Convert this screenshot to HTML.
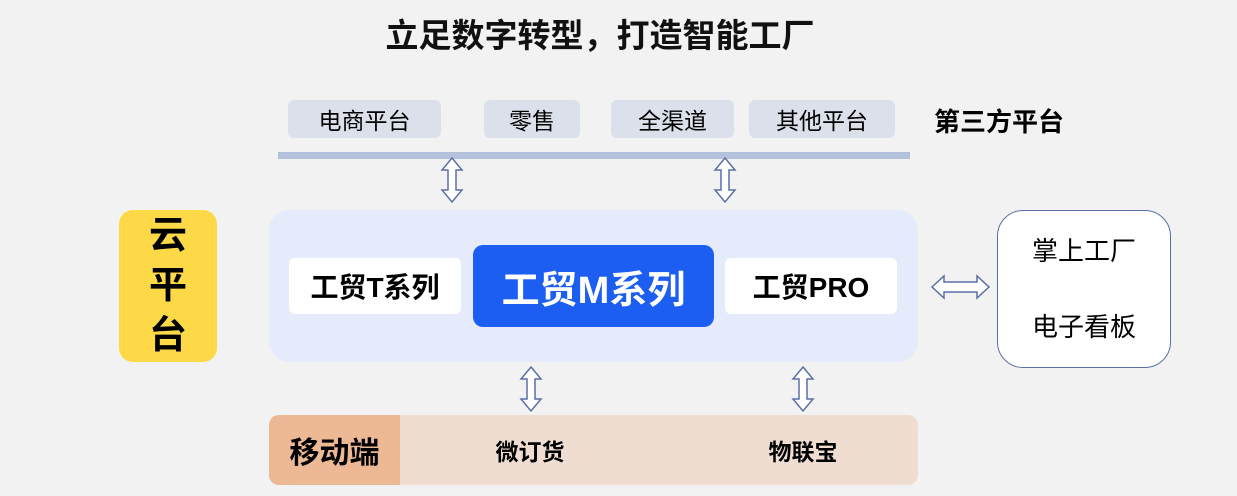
<!DOCTYPE html>
<html><head><meta charset="utf-8"><style>
body{margin:0;width:1237px;height:496px;background:#f2f2f2;position:relative;overflow:hidden;font-family:"Liberation Sans","Noto Sans CJK SC",sans-serif}
.a{position:absolute;display:flex;align-items:center;justify-content:center}
</style></head><body>
<div class="a" style="left:300px;top:8px;width:600px;height:50px;font-size:33px;font-weight:bold;color:#111">立足数字转型，打造智能工厂</div>
<div class="a" style="left:288px;top:100px;width:153px;height:38px;background:#dbe0ea;border-radius:6px;font-size:23px">电商平台</div>
<div class="a" style="left:484px;top:100px;width:96px;height:38px;background:#dbe0ea;border-radius:6px;font-size:23px">零售</div>
<div class="a" style="left:611px;top:100px;width:123px;height:38px;background:#dbe0ea;border-radius:6px;font-size:23px">全渠道</div>
<div class="a" style="left:749px;top:100px;width:146px;height:38px;background:#dbe0ea;border-radius:6px;font-size:23px">其他平台</div>
<div class="a" style="left:925px;top:100px;width:148px;height:40px;font-size:26px;font-weight:bold">第三方平台</div>
<div style="position:absolute;left:278px;top:152px;width:632px;height:7px;background:#b4c1da"></div>
<div class="a" style="left:119px;top:210px;width:98px;height:152px;background:#fdd947;border-radius:14px;font-size:38px;font-weight:bold;line-height:50px;flex-direction:column">云<br>平<br>台</div>
<div style="position:absolute;left:269px;top:210px;width:649px;height:152px;background:#e5ebfb;border-radius:20px"></div>
<div class="a" style="left:289px;top:258px;width:172px;height:56px;background:#fff;border-radius:6px;font-size:28px;font-weight:bold">工贸T系列</div>
<div class="a" style="left:473px;top:245px;width:241px;height:82px;background:#1c5ef2;border-radius:10px;font-size:38px;font-weight:bold;color:#fff">工贸M系列</div>
<div class="a" style="left:725px;top:258px;width:172px;height:56px;background:#fff;border-radius:6px;font-size:28px;font-weight:bold">工贸PRO</div>
<div class="a" style="left:997px;top:210px;width:172px;height:156px;background:#fff;border:1.5px solid #5a6fa8;border-radius:26px;font-size:26px;flex-direction:column;line-height:76px">掌上工厂<br>电子看板</div>
<div style="position:absolute;left:269px;top:415px;width:649px;height:70px;background:#efddd2;border-radius:10px"></div>
<div class="a" style="left:269px;top:415px;width:131px;height:70px;background:#edb994;border-radius:10px 0 0 10px;font-size:30px;font-weight:bold">移动端</div>
<div class="a" style="left:470px;top:430px;width:120px;height:40px;font-size:23px;font-weight:bold">微订货</div>
<div class="a" style="left:743px;top:430px;width:120px;height:40px;font-size:23px;font-weight:bold">物联宝</div>
<svg width="1237" height="496" style="position:absolute;left:0;top:0" fill="#fff" stroke="#5a6fa8" stroke-width="1.5">
<path d="M452 158 L462 170 L456 170 L456 190 L462 190 L452 202 L442 190 L448 190 L448 170 L442 170 Z"/>
<path transform="translate(273 0)" d="M452 158 L462 170 L456 170 L456 190 L462 190 L452 202 L442 190 L448 190 L448 170 L442 170 Z"/>
<path transform="translate(79 209)" d="M452 158 L462 170 L456 170 L456 190 L462 190 L452 202 L442 190 L448 190 L448 170 L442 170 Z"/>
<path transform="translate(351 209)" d="M452 158 L462 170 L456 170 L456 190 L462 190 L452 202 L442 190 L448 190 L448 170 L442 170 Z"/>
<path d="M932 287 L944 276 L944 282 L977 282 L977 276 L989 287 L977 298 L977 292 L944 292 L944 298 Z"/>
</svg>
</body></html>
